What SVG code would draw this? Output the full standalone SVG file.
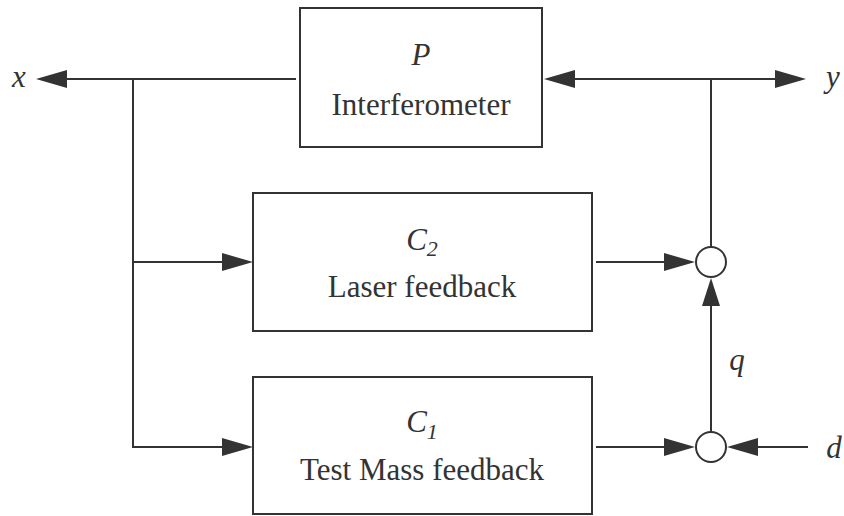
<svg xmlns="http://www.w3.org/2000/svg" width="844" height="516" viewBox="0 0 844 516">
<style>
.box{fill:#fff;stroke:#333;stroke-width:2}
.ln{fill:none;stroke:#333;stroke-width:2}
.sum{fill:#fff;stroke:#333;stroke-width:2}
.t{font-family:'Liberation Serif','DejaVu Serif','Times New Roman',Times,serif;font-size:31px;fill:#333;text-anchor:middle}
.i{font-style:italic}
.ah{fill:#333}
</style>
<rect width="844" height="516" fill="#fff"/>
<g id="connectors">
<line class="ln" x1="60" y1="79" x2="296" y2="79"/>
<line class="ln" x1="570" y1="79" x2="780" y2="79"/>
<polyline class="ln" points="133,79 133,447 225,447"/>
<line class="ln" x1="133" y1="262" x2="225" y2="262"/>
<line class="ln" x1="711" y1="79" x2="711" y2="247"/>
<line class="ln" x1="596" y1="262" x2="666" y2="262"/>
<line class="ln" x1="596" y1="447" x2="666" y2="447"/>
<line class="ln" x1="711" y1="432" x2="711" y2="303"/>
<line class="ln" x1="755" y1="447" x2="808" y2="447"/>
<polygon class="ah" points="36,79 67,70 67,88"/>
<polygon class="ah" points="544,79 575,70 575,88"/>
<polygon class="ah" points="806,79 775,70 775,88"/>
<polygon class="ah" points="253,262 222,253 222,271"/>
<polygon class="ah" points="253,447 222,438 222,456"/>
<polygon class="ah" points="695,262 664,253 664,271"/>
<polygon class="ah" points="695,447 664,438 664,456"/>
<polygon class="ah" points="727,447 758,438 758,456"/>
<polygon class="ah" points="711,278 702,306 720,306"/>
</g>
<g id="P">
<rect class="box" x="300" y="8" width="242" height="139"/>
<text class="t i" x="421" y="65" font-family="Liberation Serif">P</text>
<text class="t" x="421" y="115" font-family="Liberation Serif">Interferometer</text>
</g>
<g id="C2">
<rect class="box" x="253" y="193" width="339" height="138"/>
<text class="t i" x="422" y="250" font-family="Liberation Serif">C<tspan font-size="22" dy="6">2</tspan></text>
<text class="t" x="422" y="297" font-family="Liberation Serif">Laser feedback</text>
</g>
<g id="C1">
<rect class="box" x="253" y="377" width="339" height="137"/>
<text class="t i" x="422" y="432" font-family="Liberation Serif">C<tspan font-size="22" dy="7">1</tspan></text>
<text class="t" x="422" y="480" font-family="Liberation Serif">Test Mass feedback</text>
</g>
<g id="sum1">
<circle class="sum" cx="711" cy="262" r="15"/>
</g>
<g id="sum2">
<circle class="sum" cx="711" cy="447" r="15"/>
</g>
<g id="labels">
<text class="t i" x="19" y="87">x</text>
<text class="t i" x="833" y="87">y</text>
<text class="t i" x="737" y="370">q</text>
<text class="t i" x="834" y="458">d</text>
</g>
</svg>
